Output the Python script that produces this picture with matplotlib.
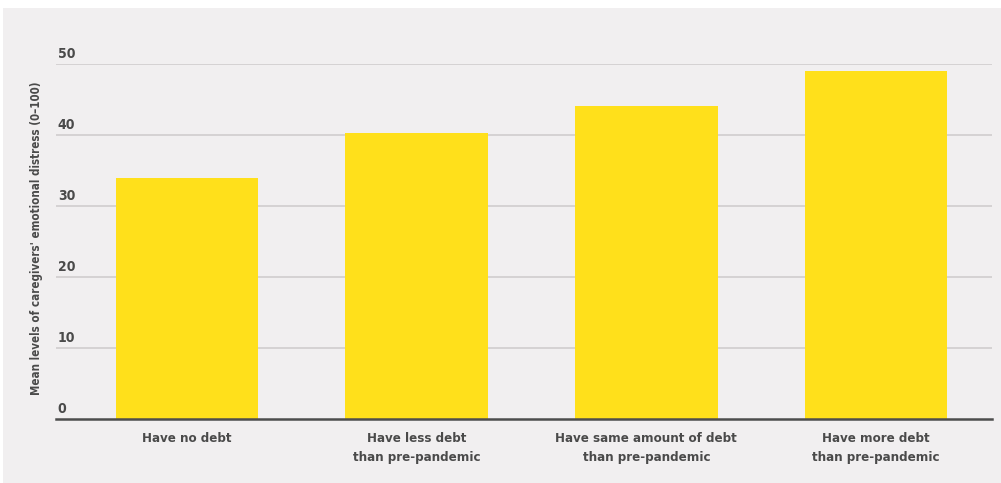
"""Bar chart: caregivers' emotional distress by change in household debt."""

import matplotlib
matplotlib.use("Agg")
from matplotlib import pyplot as plt
from matplotlib.patches import Rectangle

categories = [
    "Have no debt",
    "Have less debt\nthan pre-pandemic",
    "Have same amount of debt\nthan pre-pandemic",
    "Have more debt\nthan pre-pandemic",
]
distress = [34.0, 40.3, 44.1, 49.0]
y_ticks = [0, 10, 20, 30, 40, 50]
y_label = "Mean levels of caregivers' emotional distress (0\u2013100)"

BG = "#f1eff0"
BAR = "#ffe01b"
TEXT = "#4a4a4a"
FONT = ["DejaVu Sans"]
STRETCH = "condensed"


def main():
    fig = plt.figure(figsize=(10.01, 4.83), dpi=100)
    fig.patch.set_facecolor("white")
    # grey panel with a thin white margin on left and top
    fig.patches.append(Rectangle((3 / 1001, 0), 998 / 1001, 475 / 483,
                                 transform=fig.transFigure, facecolor=BG,
                                 edgecolor="none", zorder=-10))

    ax = fig.add_axes([56 / 1001, (483 - 419) / 483, 936 / 1001, 355 / 483])
    ax.set_facecolor("none")

    x = range(len(categories))
    ax.bar(x, distress, width=0.62, color=BAR, zorder=2)

    ax.set_xlim(-0.57, 3.505)
    ax.set_ylim(0, 50)

    for t in y_ticks:
        if t > 0:
            ax.axhline(t, color="#d0cdce", lw=1.2, zorder=1)
        ax.text(0.002, t + 0.4, str(t), transform=ax.get_yaxis_transform(),
                ha="left", va="bottom", fontsize=10, fontweight="bold",
                color=TEXT, family=FONT, fontstretch=STRETCH)

    ax.set_yticks([])
    ax.set_xticks(list(x))
    ax.set_xticklabels(categories, fontsize=9.5, fontweight="bold",
                       color=TEXT, family=FONT, fontstretch=STRETCH,
                       linespacing=1.6)
    ax.tick_params(axis="x", length=0, pad=9)

    for side in ("top", "right", "left"):
        ax.spines[side].set_visible(False)
    ax.spines["bottom"].set_color("#4d4d4d")
    ax.spines["bottom"].set_linewidth(1.8)
    ax.spines["bottom"].set_zorder(3)

    fig.text(37 / 1001, 1 - 238 / 483, y_label, rotation=90, ha="center",
             va="center", fontsize=8.3, fontweight="bold", color=TEXT,
             family=FONT, fontstretch=STRETCH)

    fig.savefig("out.png", dpi=100, facecolor=fig.get_facecolor())


main()
